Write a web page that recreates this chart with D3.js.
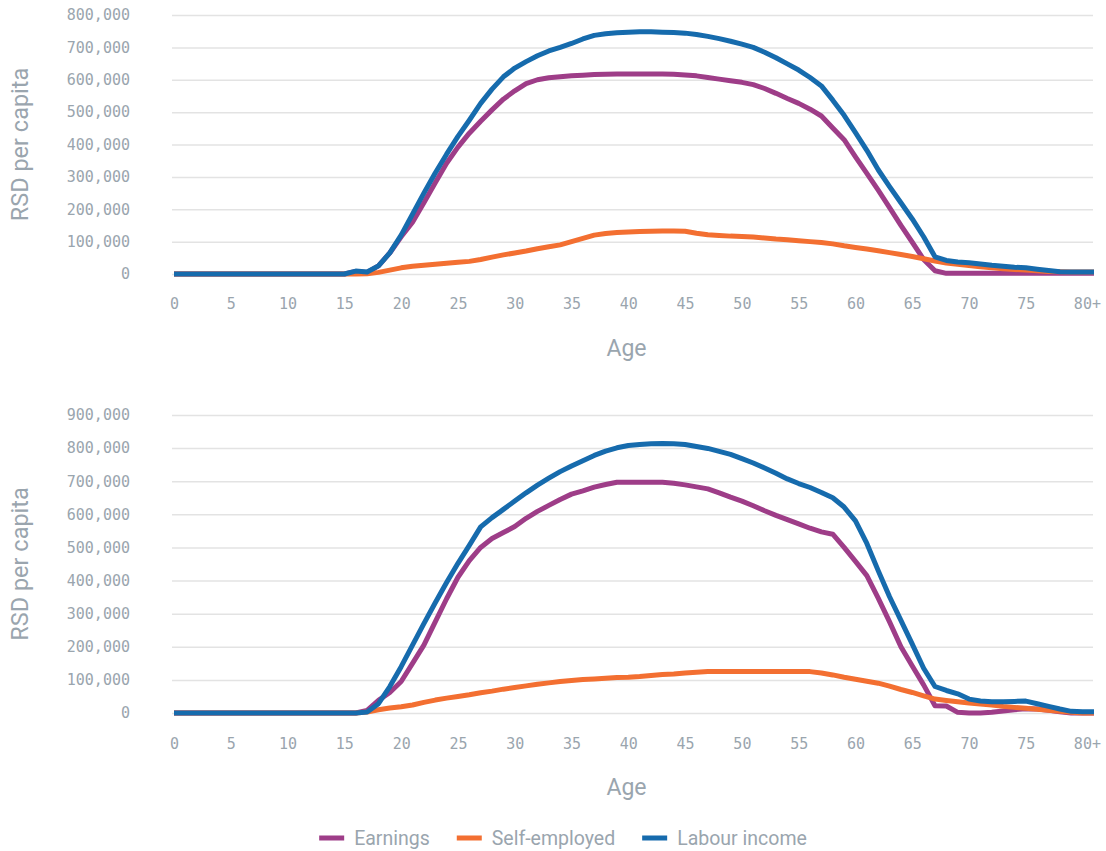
<!DOCTYPE html>
<html>
<head>
<meta charset="utf-8">
<script src="https://cdn.jsdelivr.net/npm/d3@7"></script>
<style>
  body { margin: 0; background: #fff; }
  .tick text { font-family: "DejaVu Sans Mono", monospace; font-size: 15px; fill: #9aa5ae; }
  .title { font-family: Roboto, sans-serif; fill: #9aa5ae; }
  .legend text { font-family: Roboto, sans-serif; font-size: 19.5px; fill: #9aa5ae; }
</style>
</head>
<body>
<svg id="chart" width="1106" height="851"></svg>
<script>
// ages 0 .. 81 (last point sits at the "80+" end of the axis)
const ages = d3.range(0, 82);
const tickAges = [0, 5, 10, 15, 20, 25, 30, 35, 40, 45, 50, 55, 60, 65, 70, 75, 80];
const tickLabels = ["0", "5", "10", "15", "20", "25", "30", "35", "40", "45", "50", "55", "60", "65", "70", "75", "80+"];
const seriesNames = ["Earnings", "Self-employed", "Labour income"];
const topYTicks = [0, 100000, 200000, 300000, 400000, 500000, 600000, 700000, 800000];
const bottomYTicks = [0, 100000, 200000, 300000, 400000, 500000, 600000, 700000, 800000, 900000];

const topEarnings = [
  0, 0, 0, 0, 0, 0, 0, 0, 0, 0,
  0, 0, 0, 0, 0, 0, 8000, 5000, 25000, 65000,
  115000, 160000, 220000, 282000, 342000, 392000, 435000, 472000, 507000, 540000,
  566000, 588000, 600000, 606000, 609000, 612000, 614000, 616000, 617000, 618000,
  618000, 618000, 618000, 618000, 617000, 615000, 612000, 607000, 602000, 597000,
  592000, 585000, 573000, 558000, 542000, 527000, 509000, 488000, 451000, 415000,
  362000, 311000, 259000, 205000, 150000, 98000, 45000, 10000, 2000, 2000,
  2000, 2000, 2000, 2000, 2000, 2000, 2000, 2000, 2000, 2000,
  2000, 2000
];
const topSelfEmployed = [
  0, 0, 0, 0, 0, 0, 0, 0, 0, 0,
  0, 0, 0, 0, 0, 0, 0, 1000, 5000, 12000,
  19000, 24000, 27000, 30000, 33000, 36000, 39000, 45000, 52000, 59000,
  65000, 71000, 78000, 84000, 90000, 100000, 110000, 120000, 125000, 128000,
  130000, 131000, 132000, 133000, 133000, 132000, 126000, 121000, 119000, 117000,
  116000, 114000, 111000, 108000, 106000, 103000, 100000, 97000, 93000, 87000,
  82000, 77000, 72000, 66000, 60000, 54000, 47000, 40000, 34000, 30000,
  26000, 22000, 19000, 16000, 14000, 12000, 10000, 8000, 7000, 6000,
  6000, 6000
];
const topLabour = [
  0, 0, 0, 0, 0, 0, 0, 0, 0, 0,
  0, 0, 0, 0, 0, 0, 9000, 6000, 25000, 65000,
  120000, 185000, 250000, 312000, 370000, 425000, 475000, 527000, 571000, 609000,
  636000, 656000, 674000, 689000, 700000, 712000, 726000, 737000, 742000, 745000,
  747000, 748000, 748000, 747000, 746000, 744000, 740000, 734000, 727000, 719000,
  710000, 700000, 685000, 668000, 649000, 630000, 607000, 581000, 537000, 490000,
  437000, 382000, 322000, 270000, 220000, 170000, 115000, 53000, 42000, 37000,
  35000, 31000, 27000, 24000, 21000, 19000, 15000, 11000, 7000, 6000,
  6000, 6000
];

const bottomEarnings = [
  0, 0, 0, 0, 0, 0, 0, 0, 0, 0,
  0, 0, 0, 0, 0, 0, 0, 8000, 38000, 62000,
  95000, 150000, 205000, 275000, 345000, 410000, 460000, 500000, 527000, 545000,
  563000, 588000, 609000, 627000, 645000, 661000, 671000, 682000, 690000, 697000,
  697000, 697000, 697000, 697000, 694000, 689000, 683000, 677000, 665000, 652000,
  640000, 626000, 611000, 597000, 584000, 571000, 558000, 547000, 540000, 500000,
  458000, 415000, 347000, 275000, 200000, 142000, 85000, 22000, 21000, 2000,
  0, 0, 2000, 6000, 10000, 13000, 12000, 8000, 4000, 0,
  0, 0
];
const bottomSelfEmployed = [
  0, 0, 0, 0, 0, 0, 0, 0, 0, 0,
  0, 0, 0, 0, 0, 0, 0, 3000, 10000, 15000,
  19000, 24000, 32000, 39000, 45000, 50000, 55000, 61000, 66000, 72000,
  77000, 82000, 87000, 91000, 95000, 98000, 101000, 103000, 105000, 107000,
  108000, 110000, 113000, 116000, 118000, 121000, 123000, 125000, 125000, 125000,
  125000, 125000, 125000, 125000, 125000, 125000, 125000, 121000, 115000, 108000,
  102000, 96000, 90000, 81000, 71000, 62000, 52000, 42000, 38000, 34000,
  30000, 27000, 24000, 20000, 17000, 14000, 11000, 8000, 5000, 2000,
  0, 0
];
const bottomLabour = [
  0, 0, 0, 0, 0, 0, 0, 0, 0, 0,
  0, 0, 0, 0, 0, 0, 0, 3000, 28000, 80000,
  140000, 205000, 270000, 333000, 394000, 452000, 506000, 562000, 590000, 615000,
  640000, 665000, 688000, 709000, 729000, 746000, 762000, 778000, 791000, 801000,
  808000, 811000, 813000, 814000, 813000, 811000, 805000, 799000, 790000, 781000,
  768000, 755000, 740000, 724000, 707000, 693000, 681000, 666000, 650000, 622000,
  580000, 512000, 430000, 351000, 280000, 208000, 135000, 80000, 68000, 58000,
  42000, 36000, 34000, 34000, 35000, 36000, 28000, 20000, 12000, 5000,
  4000, 4000
];

const colors = ["#9e3d88", "#f36f31", "#166bad"];

const svg = d3.select("#chart");
const left = 172, right = 1093;

const x = d3.scaleLinear().domain([0, 81]).range([174, 1094]);

function drawPanel(top, bottom, yTicks, series, labelPad) {
  const y = d3.scaleLinear().domain([0, d3.max(yTicks)]).range([bottom, top]);
  const g = svg.append("g");

  // y axis + gridlines
  const yAxis = g.append("g")
    .attr("transform", `translate(${left},0)`)
    .call(d3.axisLeft(y)
      .tickValues(yTicks)
      .tickFormat(d3.format(","))
      .tickSizeInner(-(right - left))
      .tickSizeOuter(0)
      .tickPadding(42));
  yAxis.select(".domain").remove();
  yAxis.selectAll(".tick line").attr("stroke", "#e3e3e3").attr("stroke-width", 1.5);

  // x axis labels
  const xAxis = g.append("g")
    .attr("transform", `translate(0,${bottom})`)
    .call(d3.axisBottom(x)
      .tickValues(tickAges)
      .tickFormat((d, i) => tickLabels[i])
      .tickSize(0)
      .tickPadding(labelPad));
  xAxis.select(".domain").remove();
  xAxis.selectAll(".tick text").filter((d, i) => i === tickAges.length - 1)
    .attr("text-anchor", "start")
    .attr("dx", "-0.62em");

  // lines
  const line = d3.line()
    .x((d, i) => x(ages[i]))
    .y(d => y(d));

  series.forEach((values, k) => {
    g.append("path")
      .datum(values)
      .attr("fill", "none")
      .attr("stroke", colors[k])
      .attr("stroke-width", 5)
      .attr("stroke-linejoin", "round")
      .attr("d", line);
  });

  // axis titles
  g.append("text")
    .attr("class", "title")
    .attr("transform", `translate(28,${(top + bottom) / 2}) rotate(-90)`)
    .attr("text-anchor", "middle")
    .style("font-size", "23.5px")
    .text("RSD per capita");

  g.append("text")
    .attr("class", "title")
    .attr("x", (left + right) / 2 - 6)
    .attr("y", bottom + 82)
    .attr("text-anchor", "middle")
    .style("font-size", "23px")
    .text("Age");
}

drawPanel(15, 274, topYTicks, [topEarnings, topSelfEmployed, topLabour], 24);
drawPanel(415, 713, bottomYTicks, [bottomEarnings, bottomSelfEmployed, bottomLabour], 25);

// legend
const legend = svg.append("g").attr("class", "legend");
let cursor = 0;
seriesNames.forEach((name, k) => {
  const item = legend.append("g").attr("transform", `translate(${cursor},0)`);
  item.append("rect")
    .attr("x", 0).attr("y", -2.5)
    .attr("width", 25).attr("height", 5)
    .attr("fill", colors[k]);
  const t = item.append("text")
    .attr("x", 35).attr("y", 7)
    .text(name);
  cursor += 35 + t.node().getComputedTextLength() + 27;
});
const legendWidth = cursor - 27;
legend.attr("transform", `translate(${563 - legendWidth / 2},838)`);
</script>
</body>
</html>
